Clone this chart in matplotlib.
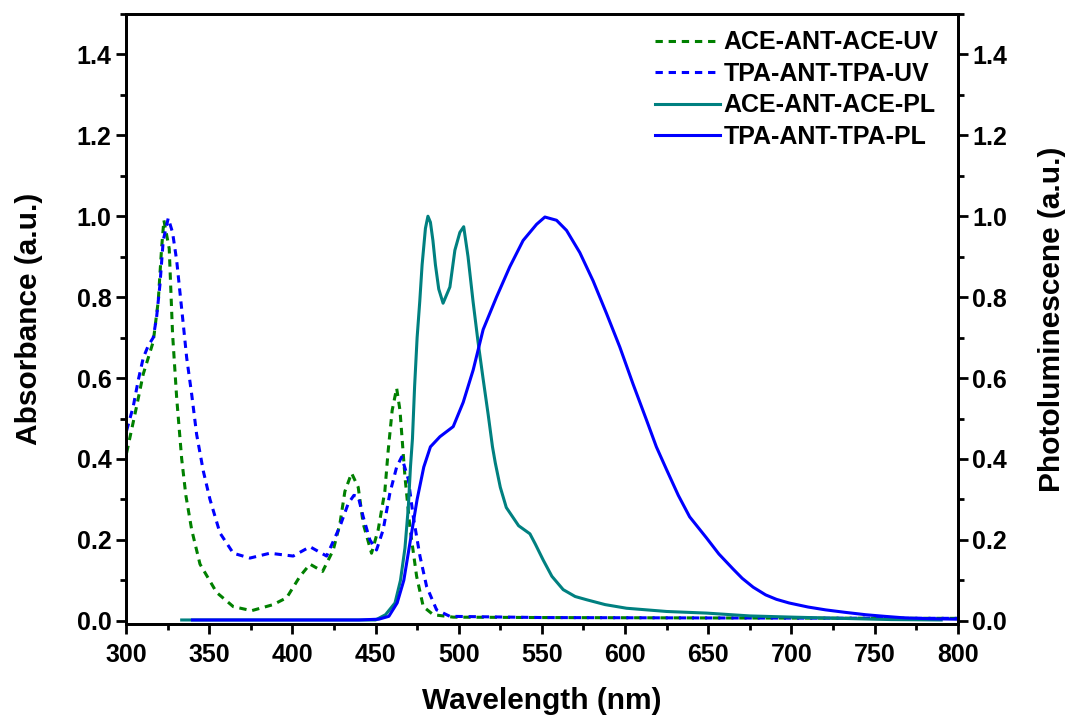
import matplotlib
matplotlib.use("Agg")
import matplotlib.pyplot as plt
from matplotlib.ticker import MultipleLocator

plt.rcParams['font.family'] = ['Liberation Sans', 'DejaVu Sans']
plt.rcParams['font.weight'] = 'bold'

# absorbance, ACE-ANT-ACE (green dashed)
ace_uv_x = [300.4, 306.4, 310.4, 313.4, 316.4, 319.4, 321.4, 322.8, 326, 328, 330.5, 333.5, 336,
            339.5, 344.5, 354.5, 364.5, 375.5, 388.5, 396.6, 404.6, 410.6, 418.2, 424.6, 428.6,
            431.6, 435.6, 439.6, 442.6, 447.6, 451.6, 455.6, 457.6, 460, 462.7, 464.7, 467.7,
            470.7, 474.7, 478.7, 484.7, 496.7, 550, 650, 800]
ace_uv_y = [0.415, 0.53, 0.61, 0.65, 0.69, 0.79, 0.92, 0.99, 0.92, 0.71, 0.55, 0.40, 0.31,
            0.225, 0.14, 0.07, 0.035, 0.025, 0.04, 0.057, 0.11, 0.14, 0.122, 0.175, 0.24,
            0.32, 0.365, 0.33, 0.24, 0.167, 0.225, 0.32, 0.42, 0.52, 0.575, 0.52, 0.356,
            0.23, 0.11, 0.035, 0.015, 0.009, 0.008, 0.007, 0.006]

# absorbance, TPA-ANT-TPA (blue dashed)
tpa_uv_x = [300.4, 304.4, 307.4, 310.4, 313.4, 316.4, 318.4, 320.4, 322.4, 325.4, 328, 330.5,
            332.5, 334.4, 336.5, 339.5, 342.5, 346.5, 350.5, 356.5, 364.5, 374.5, 386.5, 400.5,
            410.6, 420.6, 428.6, 433.6, 437, 439.6, 442.6, 446.6, 450.6, 454.6, 458.6, 462.7,
            465.7, 469.7, 472.7, 476.7, 480.7, 486.7, 494.7, 550, 650, 800]
tpa_uv_y = [0.47, 0.53, 0.595, 0.65, 0.68, 0.70, 0.75, 0.83, 0.94, 0.995, 0.96, 0.89,
            0.81, 0.735, 0.65, 0.56, 0.46, 0.37, 0.30, 0.217, 0.167, 0.155, 0.167, 0.16,
            0.183, 0.16, 0.233, 0.29, 0.31, 0.307, 0.257, 0.20, 0.175, 0.225, 0.315, 0.38,
            0.405, 0.35, 0.257, 0.16, 0.085, 0.027, 0.011, 0.008, 0.007, 0.006]

# photoluminescence, ACE-ANT-ACE (teal solid)
ace_pl_x = [333.5, 380, 430, 450, 456, 461.7, 465, 467.7, 469.7, 471, 472.2, 473.5, 475,
            476.6, 478, 480, 481.5, 483, 484.5, 486, 488, 490.6, 494.7, 497.7, 500.7, 503,
            505.6, 508.6, 511.6, 514.6, 517.7, 520.3, 522, 525, 528.6, 536, 542.8, 546, 550.8,
            556, 562.8, 570, 576.9, 588, 600.9, 625, 649, 675, 701, 730, 760, 790]
ace_pl_y = [0.002, 0.002, 0.002, 0.002, 0.015, 0.044, 0.10, 0.18, 0.28, 0.38, 0.45, 0.58, 0.70,
            0.79, 0.88, 0.97, 1.0, 0.985, 0.94, 0.88, 0.82, 0.785, 0.825, 0.916, 0.96, 0.974,
            0.90, 0.79, 0.69, 0.60, 0.51, 0.43, 0.39, 0.33, 0.28, 0.235, 0.215, 0.19, 0.15,
            0.11, 0.077, 0.06, 0.052, 0.04, 0.031, 0.023, 0.019, 0.012, 0.009, 0.006, 0.003, 0.002]

# photoluminescence, TPA-ANT-TPA (blue solid)
tpa_pl_x = [340, 400, 440, 452, 458, 463, 467, 471, 475, 479, 483, 488.7, 496.7, 502.7,
            508.7, 514.7, 522.7, 530.7, 538.7, 546.8, 551.8, 558.8, 564.8, 572.8, 580.8,
            588.8, 596.8, 604.8, 612.9, 618.8, 625, 632, 638.8, 648.9, 656.4, 664.9, 670.4,
            677, 684.5, 691, 698.6, 710, 720.5, 732, 744.6, 756, 768.6, 784, 799]
tpa_pl_y = [0.002, 0.002, 0.002, 0.004, 0.011, 0.044, 0.10, 0.20, 0.30, 0.38, 0.43, 0.455,
            0.48, 0.54, 0.62, 0.72, 0.80, 0.875, 0.94, 0.98, 0.998, 0.99, 0.965, 0.91,
            0.84, 0.76, 0.677, 0.585, 0.496, 0.43, 0.373, 0.31, 0.257, 0.205, 0.165, 0.128, 0.105,
            0.083, 0.064, 0.053, 0.044, 0.034, 0.027, 0.021, 0.015, 0.011, 0.007, 0.005, 0.004]

fig = plt.figure(figsize=(10.72, 7.22), dpi=100)
ax = fig.add_axes([0.1175, 0.1357, 0.776, 0.845])
ax2 = ax.twinx()

green = '#008000'
blue = '#0000ff'
teal = '#008080'

l1, = ax.plot(ace_uv_x, ace_uv_y, color=green, lw=2.2, ls=(0, (2.4, 1.9)), label='ACE-ANT-ACE-UV')
l2, = ax.plot(tpa_uv_x, tpa_uv_y, color=blue, lw=2.2, ls=(0, (2.4, 1.9)), label='TPA-ANT-TPA-UV')
l3, = ax2.plot(ace_pl_x, ace_pl_y, color=teal, lw=2.2, label='ACE-ANT-ACE-PL')
l4, = ax2.plot(tpa_pl_x, tpa_pl_y, color=blue, lw=2.2, label='TPA-ANT-TPA-PL')

for a in (ax, ax2):
    a.set_xlim(300, 800)
    a.set_ylim(-0.008, 1.5)
    a.yaxis.set_major_locator(MultipleLocator(0.2))
    a.yaxis.set_minor_locator(MultipleLocator(0.1))
    a.tick_params(which='major', direction='out', length=7, width=2, labelsize=18)
    a.tick_params(which='minor', direction='out', length=4, width=2)
    for s in a.spines.values():
        s.set_linewidth(2)
    a.yaxis.set_major_formatter(plt.FormatStrFormatter('%.1f'))

ax.xaxis.set_major_locator(MultipleLocator(50))
ax.xaxis.set_minor_locator(MultipleLocator(25))
ax.tick_params(axis='x', pad=7)

ax.set_xlabel('Wavelength (nm)', fontsize=21.5, fontweight='bold', labelpad=14)
ax.set_ylabel('Absorbance (a.u.)', fontsize=21.5, fontweight='bold', labelpad=24)
ax2.set_ylabel('Photoluminescene (a.u.)', fontsize=21.5, fontweight='bold', labelpad=22)

leg = ax2.legend(handles=[l1, l2, l3, l4], loc='upper right', bbox_to_anchor=(1.004, 1.01),
                 frameon=False, fontsize=18, handlelength=2.6, labelspacing=0.3,
                 handletextpad=0.15)
for t in leg.get_texts():
    t.set_fontweight('bold')

fig.savefig('out.png', dpi=100)
